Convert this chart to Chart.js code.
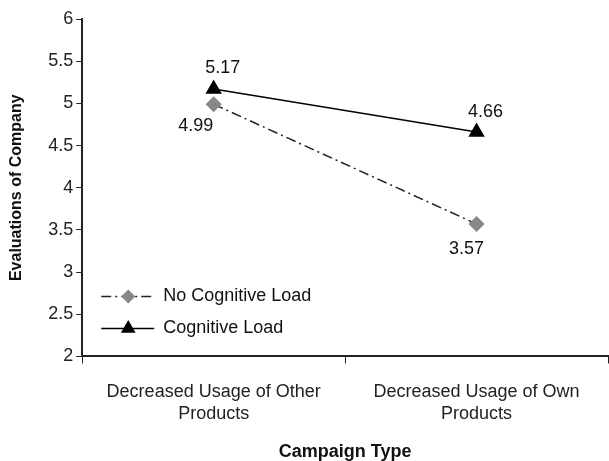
<!DOCTYPE html>
<html>
<head>
<meta charset="utf-8">
<script src="https://cdn.jsdelivr.net/npm/chart.js@4"></script>
<style>
	html, body { margin: 0; padding: 0; background: #fff; }
	#wrap { width: 609px; height: 461px; }
</style>
</head>
<body>
<div id="wrap"><canvas id="evalChart" width="609" height="461"></canvas></div>
<script>
const categories = [
	["Decreased Usage of Other", "Products"],
	["Decreased Usage of Own", "Products"],
];
const noLoadValues = [4.99, 3.57];
const loadValues = [5.17, 4.66];
const seriesNames = ["No Cognitive Load", "Cognitive Load"];

const FONT = "'Liberation Sans', Arial, sans-serif";

// value labels next to each point
const valueLabels = {
	id: "valueLabels",
	afterDatasetsDraw(chart) {
		const ctx = chart.ctx;
		ctx.save();
		ctx.font = "18px " + FONT;
		ctx.fillStyle = "#111";
		ctx.textAlign = "center";
		ctx.textBaseline = "middle";
		const placement = [
			[[-18, 22], [-10, 25]],   // no load: below
			[[9, -21], [9, -20]],     // load: above
		];
		chart.data.datasets.forEach((ds, i) => {
			chart.getDatasetMeta(i).data.forEach((pt, j) => {
				const off = placement[i][j];
				ctx.fillText(ds.data[j].toFixed(2), pt.x + off[0], pt.y + off[1]);
			});
		});
		ctx.restore();
	},
};

// legend drawn inside the plot, bottom left
const innerLegend = {
	id: "innerLegend",
	afterDraw(chart) {
		const ctx = chart.ctx;
		const area = chart.chartArea;
		ctx.save();
		ctx.font = "18px " + FONT;
		ctx.textBaseline = "middle";
		chart.data.datasets.forEach((ds, i) => {
			const y = area.bottom - 60 + i * 32;
			const x0 = area.left + 19;
			ctx.strokeStyle = ds.borderColor;
			ctx.lineWidth = 1.5;
			ctx.setLineDash(ds.borderDash || []);
			ctx.beginPath();
			ctx.moveTo(x0, y);
			ctx.lineTo(x0 + 53, y);
			ctx.stroke();
			ctx.setLineDash([]);
			ctx.fillStyle = ds.pointBackgroundColor;
			ctx.strokeStyle = ds.pointBorderColor;
			Chart.helpers.drawPoint(ctx, {
				pointStyle: ds.pointStyle,
				radius: ds.pointRadius - 1,
				borderWidth: 1,
			}, x0 + 27, y);
			ctx.fillStyle = "#111";
			ctx.fillText(ds.label, x0 + 62, y);
		});
		ctx.restore();
	},
};

const ctx = document.getElementById("evalChart").getContext("2d");
const evalChart = new Chart(ctx, {
	type: "line",
	data: {
		labels: categories,
		datasets: [
			{
				label: seriesNames[0],
				data: noLoadValues,
				borderColor: "#222",
				borderWidth: 1.5,
				borderDash: [10, 4, 2, 4],
				pointStyle: "rectRot",
				pointRadius: 7,
				pointBackgroundColor: "#888",
				pointBorderColor: "#888",
				backgroundColor: "#888",
			},
			{
				label: seriesNames[1],
				data: loadValues,
				borderColor: "#000",
				borderWidth: 1.5,
				pointStyle: "triangle",
				pointRadius: 8,
				pointBackgroundColor: "#000",
				pointBorderColor: "#000",
				backgroundColor: "#000",
			},
		],
	},
	options: {
		responsive: false,
		animation: false,
		layout: {
			autoPadding: false,
			padding: { top: 19, right: 1, bottom: -4, left: 7 },
		},
		plugins: {
			legend: { display: false },
			tooltip: { enabled: false },
		},
		scales: {
			x: {
				offset: true,
				grid: {
					offset: true,
					drawOnChartArea: false,
					drawTicks: true,
					tickLength: 7,
					color: "#222",
				},
				border: { color: "#222", width: 2 },
				ticks: {
					color: "#222",
					font: { family: FONT, size: 18, lineHeight: 1.22 },
					padding: 18,
					maxRotation: 0,
				},
				title: {
					display: true,
					text: "Campaign Type",
					color: "#111",
					font: { family: FONT, size: 18, weight: "bold", lineHeight: 1.2 },
					padding: { top: -2, bottom: 2 },
				},
			},
			y: {
				min: 2,
				max: 6,
				ticks: {
					stepSize: 0.5,
					color: "#222",
					font: { family: FONT, size: 18 },
					padding: 3,
					callback: (v) => String(v),
				},
				grid: {
					drawOnChartArea: false,
					drawTicks: true,
					tickLength: 6,
					color: "#222",
				},
				border: { color: "#222", width: 2 },
				title: {
					display: true,
					text: "Evaluations of Company",
					color: "#111",
					font: { family: FONT, size: 16, weight: "bold", lineHeight: 1.2 },
					padding: { top: 0, bottom: 19 },
				},
			},
		},
	},
	plugins: [valueLabels, innerLegend],
});
</script>
</body>
</html>
